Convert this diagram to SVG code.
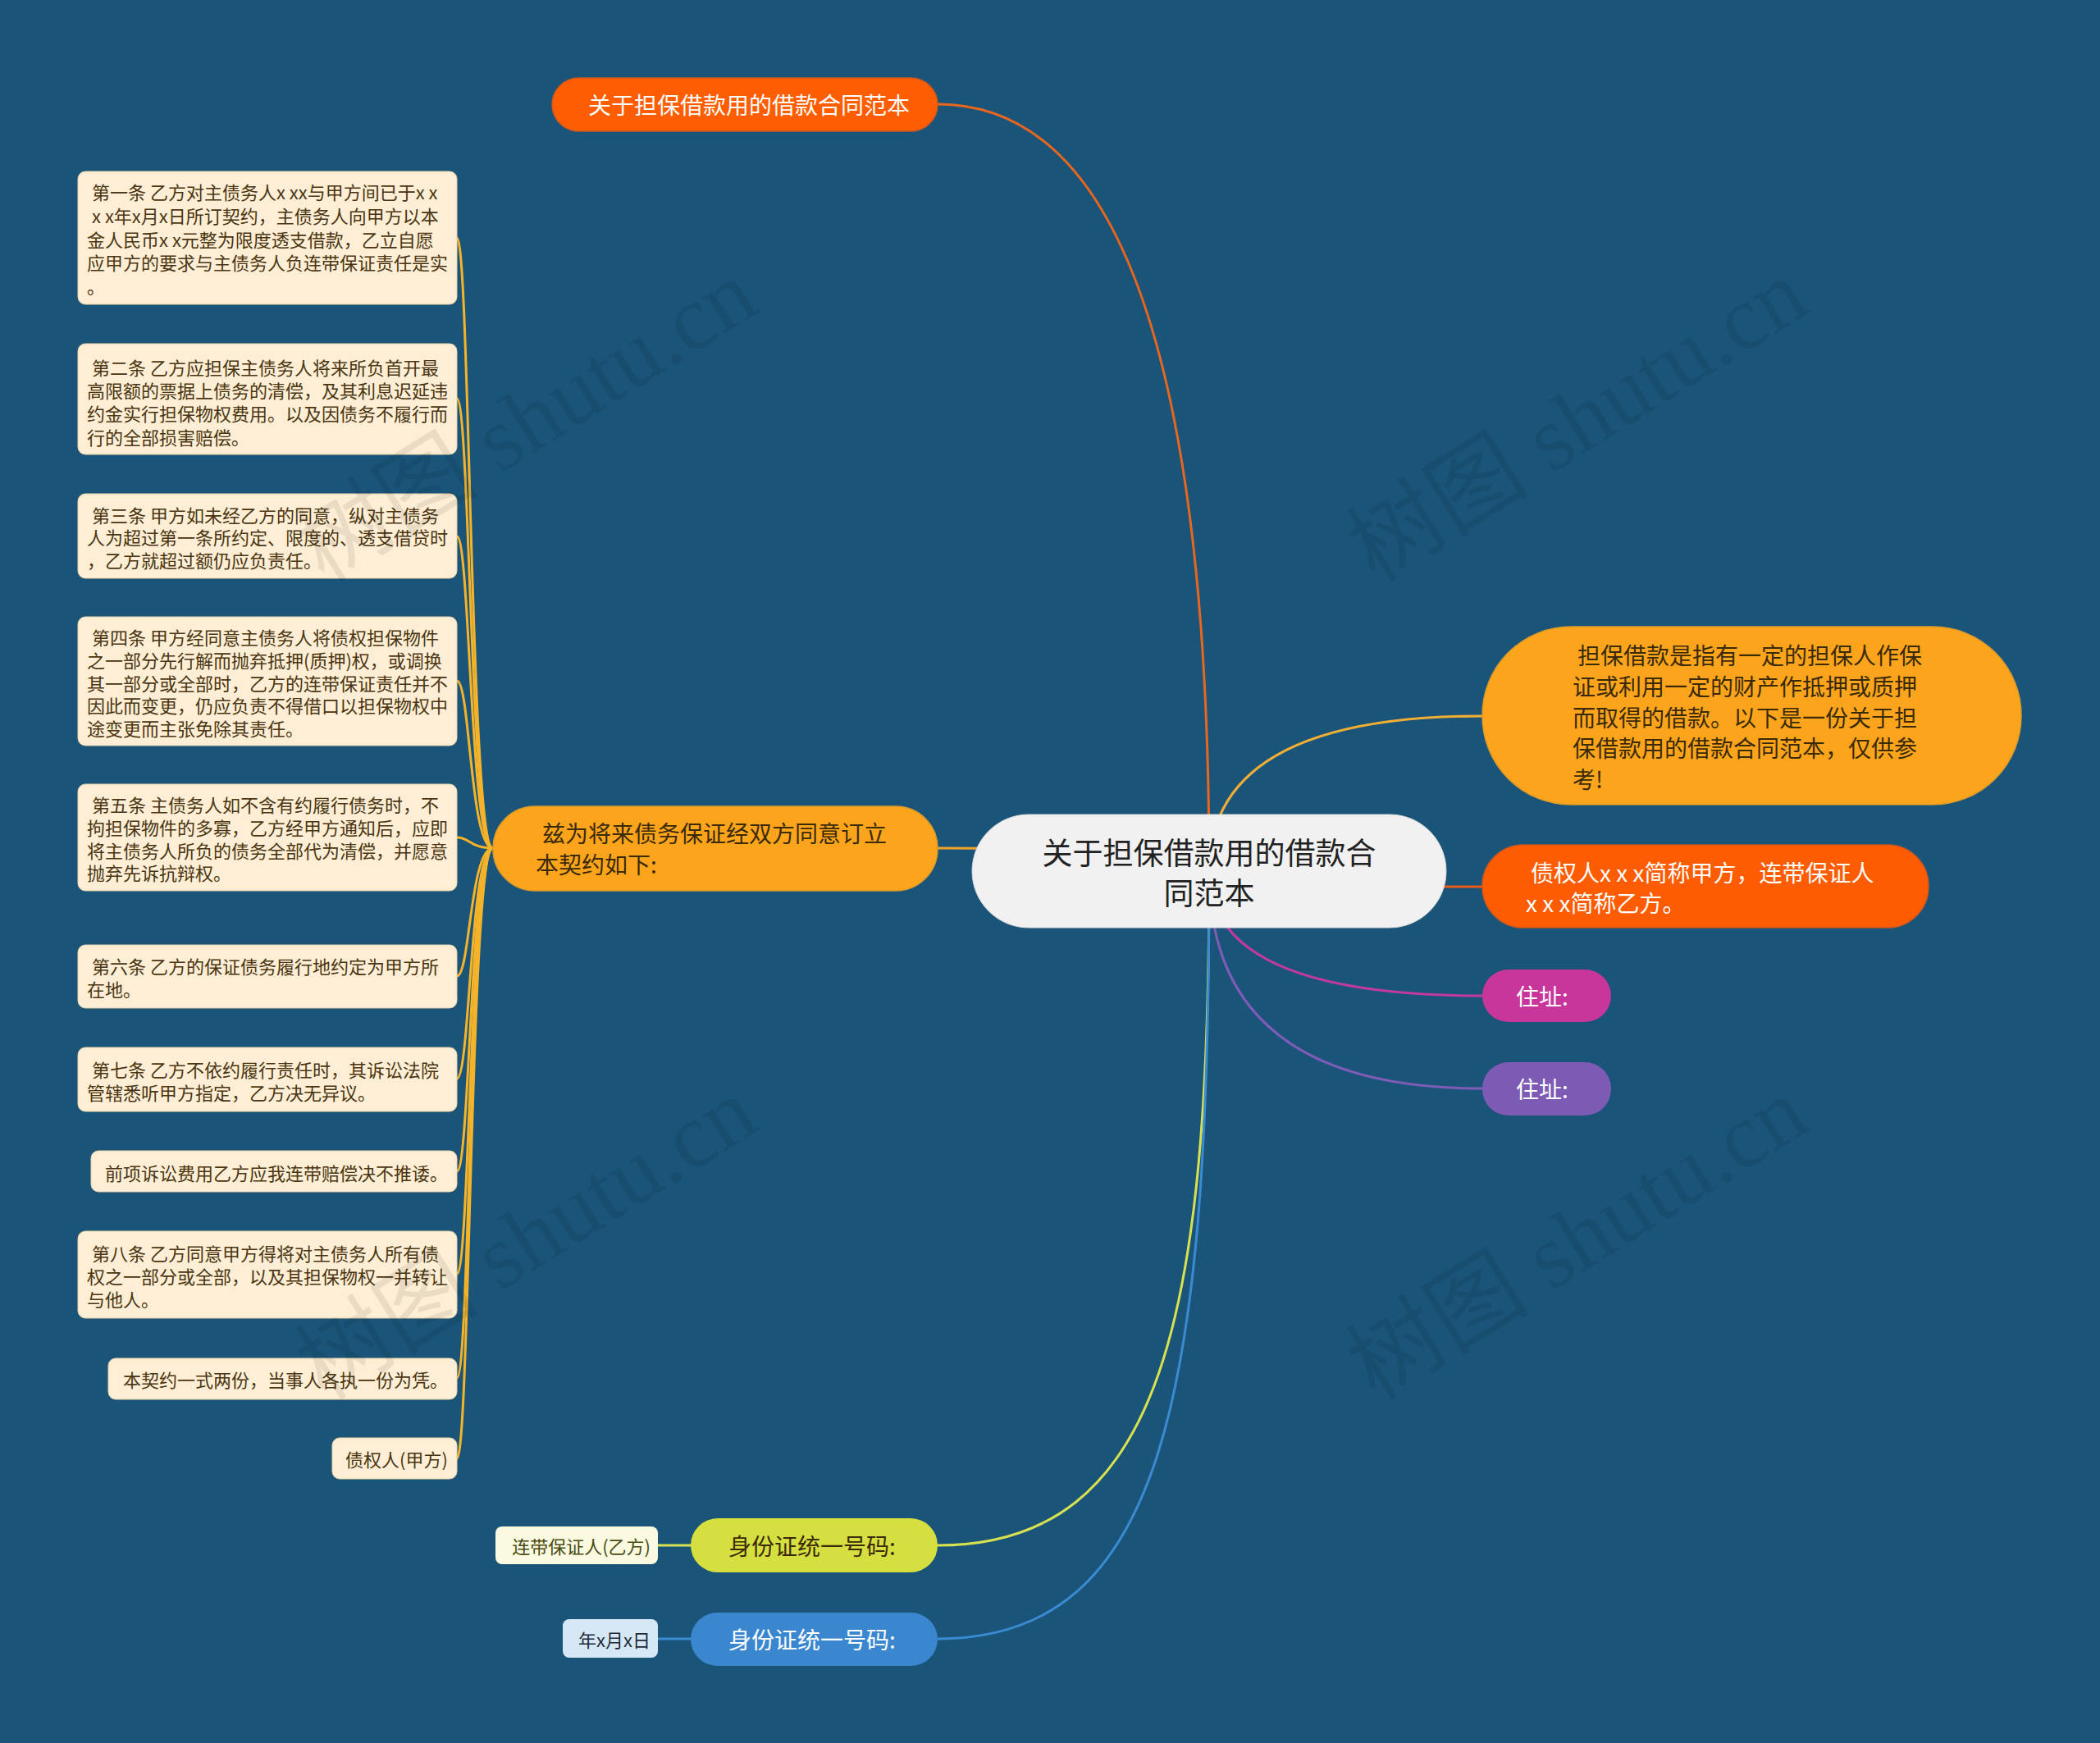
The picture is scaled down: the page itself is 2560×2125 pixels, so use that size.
<svg xmlns="http://www.w3.org/2000/svg" width="2560" height="2125" viewBox="0 0 2560 2125">
<style>
text{font-family:"Noto Sans CJK SC","Noto Sans",sans-serif;dominant-baseline:central}
.leaf rect{fill:#fdeed5;stroke:#e8d2a8;stroke-width:1}
.leaf text{font-size:22px;fill:#4a3510}
.big{font-size:28px}
.dark{fill:#3a2a08}
.white{fill:#ffffff}
.con path{fill:none;stroke-width:3;stroke-linecap:round}
.wm{font-family:"Liberation Serif","Noto Sans CJK SC",serif;font-size:112px;fill:#000;fill-opacity:0.08;dominant-baseline:auto}
</style>
<rect x="0" y="0" width="2560" height="2125" fill="#1a5479"/>

<g id="connectors" class="con">
  <path d="M1143,127 Q1474,127 1474,1062" stroke="#e8661d"/>
  <path d="M1474,1062 Q1474,873 1807,873" stroke="#f0ae35"/>
  <path d="M1474,1062 Q1474,1081 1807,1081" stroke="#e85b17"/>
  <path d="M1474,1062 Q1474,1214 1807,1214" stroke="#c23aa0"/>
  <path d="M1474,1062 Q1474,1327 1807,1327" stroke="#7f5cb8"/>
  <path d="M1474,1062 Q1474,1034 1143,1034" stroke="#f0a52a"/>
  <path d="M1474,1062 C1474,1600 1420,1884 1143,1884" stroke="#d8e250"/>
  <path d="M1474,1062 C1474,1700 1420,1998 1143,1998" stroke="#3b8bd2"/>
  <path d="M802,1884 L842,1884" stroke="#d8e250"/>
  <path d="M802,1998 L842,1998" stroke="#3b8bd2"/>
  <g stroke="#f5b32a">
    <path d="M557,290 C573,290 573,1034 601,1034"/>
    <path d="M557,486 C573,486 573,1034 601,1034"/>
    <path d="M557,654 C573,654 573,1034 601,1034"/>
    <path d="M557,830 C573,830 573,1034 601,1034"/>
    <path d="M557,1021 C573,1021 573,1034 601,1034"/>
    <path d="M557,1190 C573,1190 573,1034 601,1034"/>
    <path d="M557,1315 C573,1315 573,1034 601,1034"/>
    <path d="M557,1428 C573,1428 573,1034 601,1034"/>
    <path d="M557,1553 C573,1553 573,1034 601,1034"/>
    <path d="M557,1680 C573,1680 573,1034 601,1034"/>
    <path d="M557,1778 C573,1778 573,1034 601,1034"/>
  </g>
</g>

<g id="center">
  <rect x="1185" y="993" width="578" height="138" rx="69" fill="#f1f1f1" stroke="#d8d8d8" stroke-width="1"/>
  <text x="1474" y="1038" text-anchor="middle" font-size="37" fill="#222">关于担保借款用的借款合</text>
  <text x="1474" y="1087" text-anchor="middle" font-size="37" fill="#222">同范本</text>
</g>

<g id="n-top">
  <rect x="673" y="95" width="470" height="65" rx="32.5" fill="#fe5d02" stroke="#c9581f" stroke-width="1.5"/>
  <text x="913" y="127" text-anchor="middle" class="big white">关于担保借款用的借款合同范本</text>
</g>

<g id="n-intro">
  <rect x="1807" y="764" width="657" height="217" rx="108" fill="#fca51c" stroke="#d99a2a" stroke-width="1.5"/>
  <text x="1923" y="798" class="big dark">担保借款是指有一定的担保人作保</text>
  <text x="1917" y="836" class="big dark">证或利用一定的财产作抵押或质押</text>
  <text x="1917" y="874" class="big dark">而取得的借款。以下是一份关于担</text>
  <text x="1917" y="911" class="big dark">保借款用的借款合同范本，仅供参</text>
  <text x="1917" y="949" class="big dark">考!</text>
</g>

<g id="n-parties">
  <rect x="1807" y="1030" width="544" height="101" rx="50" fill="#fe5c02" stroke="#c9581f" stroke-width="1.5"/>
  <text x="1866" y="1063" class="big white">债权人x x x简称甲方，连带保证人</text>
  <text x="1860" y="1100" class="big white">x x x简称乙方。</text>
</g>

<g id="n-addr1">
  <rect x="1807" y="1182" width="157" height="64" rx="32" fill="#c8359b"/>
  <text x="1848" y="1214" class="big white">住址:</text>
</g>

<g id="n-addr2">
  <rect x="1807" y="1295" width="157" height="65" rx="32" fill="#7d5bb5"/>
  <text x="1848" y="1327" class="big white">住址:</text>
</g>

<g id="n-agree">
  <rect x="601" y="983" width="542" height="103" rx="51" fill="#fca51c" stroke="#d99a2a" stroke-width="1.5"/>
  <text x="661" y="1015" class="big dark">兹为将来债务保证经双方同意订立</text>
  <text x="653" y="1053" class="big dark">本契约如下:</text>
</g>

<g id="leaf1" class="leaf">
  <rect x="95" y="209" width="462" height="162" rx="9"/>
  <text x="112" y="233">第一条 乙方对主债务人x xx与甲方间已于x x</text>
  <text x="112" y="262">x x年x月x日所订契约，主债务人向甲方以本</text>
  <text x="106" y="291">金人民币x x元整为限度透支借款，乙立自愿</text>
  <text x="106" y="319">应甲方的要求与主债务人负连带保证责任是实</text>
  <text x="106" y="348">。</text>
</g>

<g id="leaf2" class="leaf">
  <rect x="95" y="419" width="462" height="135" rx="9"/>
  <text x="112" y="447">第二条 乙方应担保主债务人将来所负首开最</text>
  <text x="106" y="475">高限额的票据上债务的清偿，及其利息迟延违</text>
  <text x="106" y="503">约金实行担保物权费用。以及因债务不履行而</text>
  <text x="106" y="532">行的全部损害赔偿。</text>
</g>

<g id="leaf3" class="leaf">
  <rect x="95" y="602" width="462" height="103" rx="9"/>
  <text x="112" y="627">第三条 甲方如未经乙方的同意，纵对主债务</text>
  <text x="106" y="654">人为超过第一条所约定、限度的、透支借贷时</text>
  <text x="106" y="682">，乙方就超过额仍应负责任。</text>
</g>

<g id="leaf4" class="leaf">
  <rect x="95" y="752" width="462" height="157" rx="9"/>
  <text x="112" y="776">第四条 甲方经同意主债务人将债权担保物件</text>
  <text x="106" y="804">之一部分先行解而抛弃抵押(质押)权，或调换</text>
  <text x="106" y="832">其一部分或全部时，乙方的连带保证责任并不</text>
  <text x="106" y="859">因此而变更，仍应负责不得借口以担保物权中</text>
  <text x="106" y="887">途变更而主张免除其责任。</text>
</g>

<g id="leaf5" class="leaf">
  <rect x="95" y="956" width="462" height="130" rx="9"/>
  <text x="112" y="980">第五条 主债务人如不含有约履行债务时，不</text>
  <text x="106" y="1008">拘担保物件的多寡，乙方经甲方通知后，应即</text>
  <text x="106" y="1036">将主债务人所负的债务全部代为清偿，并愿意</text>
  <text x="106" y="1063">抛弃先诉抗辩权。</text>
</g>

<g id="leaf6" class="leaf">
  <rect x="95" y="1152" width="462" height="77" rx="9"/>
  <text x="112" y="1177">第六条 乙方的保证债务履行地约定为甲方所</text>
  <text x="106" y="1205">在地。</text>
</g>

<g id="leaf7" class="leaf">
  <rect x="95" y="1277" width="462" height="78" rx="9"/>
  <text x="112" y="1303">第七条 乙方不依约履行责任时，其诉讼法院</text>
  <text x="106" y="1331">管辖悉听甲方指定，乙方决无异议。</text>
</g>

<g id="leaf8" class="leaf">
  <rect x="111" y="1403" width="446" height="50" rx="9"/>
  <text x="128" y="1429">前项诉讼费用乙方应我连带赔偿决不推诿。</text>
</g>

<g id="leaf9" class="leaf">
  <rect x="95" y="1501" width="462" height="106" rx="9"/>
  <text x="112" y="1527">第八条 乙方同意甲方得将对主债务人所有债</text>
  <text x="106" y="1555">权之一部分或全部，以及其担保物权一并转让</text>
  <text x="106" y="1583">与他人。</text>
</g>

<g id="leaf10" class="leaf">
  <rect x="132" y="1656" width="425" height="50" rx="9"/>
  <text x="150" y="1681">本契约一式两份，当事人各执一份为凭。</text>
</g>

<g id="leaf11" class="leaf">
  <rect x="405" y="1753" width="152" height="50" rx="9"/>
  <text x="421" y="1778">债权人(甲方)</text>
</g>

<g id="n-id1">
  <rect x="842" y="1851" width="301" height="66" rx="33" fill="#d5df40"/>
  <text x="990" y="1884" text-anchor="middle" class="big dark">身份证统一号码:</text>
</g>
<g id="n-guarantor">
  <rect x="604" y="1861" width="198" height="46" rx="8" fill="#fafae0"/>
  <text x="793" y="1884" text-anchor="end" font-size="22" fill="#4a4a12">连带保证人(乙方)</text>
</g>

<g id="n-id2">
  <rect x="842" y="1966" width="301" height="65" rx="32.5" fill="#3a87cf"/>
  <text x="990" y="1998" text-anchor="middle" class="big white">身份证统一号码:</text>
</g>
<g id="n-date">
  <rect x="686" y="1974" width="116" height="47" rx="8" fill="#d6e8f6"/>
  <text x="793" y="1998" text-anchor="end" font-size="22" fill="#1f2a38">年x月x日</text>
</g>

<g id="watermarks">
  <text class="wm" x="645" y="550" text-anchor="middle" transform="rotate(-32 645 518)">树图 shutu.cn</text>
  <text class="wm" x="1926" y="550" text-anchor="middle" transform="rotate(-32 1926 518)">树图 shutu.cn</text>
  <text class="wm" x="645" y="1547" text-anchor="middle" transform="rotate(-32 645 1515)">树图 shutu.cn</text>
  <text class="wm" x="1926" y="1547" text-anchor="middle" transform="rotate(-32 1926 1515)">树图 shutu.cn</text>
</g>
</svg>
